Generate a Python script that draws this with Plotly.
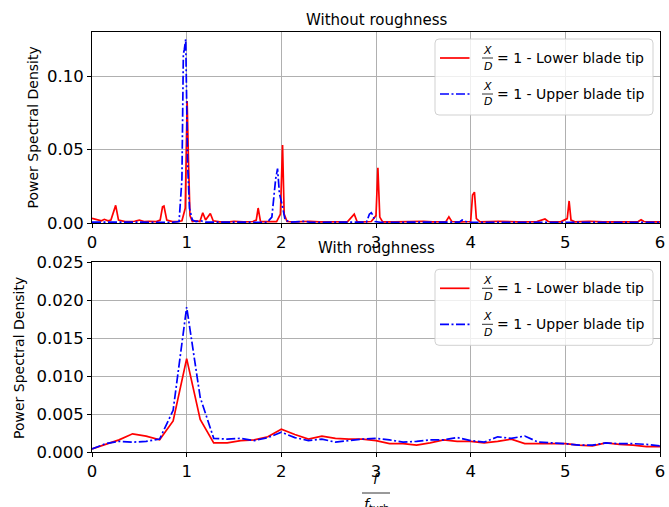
import plotly.graph_objects as go

# ---------------- data ----------------
# Top panel: without roughness
f_low_top = [0, 0.05, 0.1, 0.13, 0.17, 0.2, 0.25, 0.28, 0.35, 0.45, 0.5, 0.55, 0.6, 0.68,
             0.72, 0.745, 0.76, 0.79, 0.85, 0.9, 0.95, 0.985, 1.005, 1.02, 1.035, 1.06, 1.1,
             1.14, 1.17, 1.2, 1.25, 1.28, 1.35, 1.45, 1.5, 1.6, 1.7, 1.735, 1.755, 1.78, 1.85,
             1.95, 1.99, 2.013, 2.03, 2.06, 2.15, 2.3, 2.4, 2.5, 2.6, 2.7, 2.77, 2.8, 2.85,
             2.95, 3.0, 3.02, 3.04, 3.07, 3.2, 3.3, 3.5, 3.6, 3.74, 3.77, 3.8, 3.9, 4.0, 4.02,
             4.04, 4.06, 4.1, 4.3, 4.5, 4.7, 4.785, 4.82, 4.95, 5.02, 5.04, 5.06, 5.1, 5.25,
             5.4, 5.6, 5.77, 5.80, 5.83, 5.9, 6.0]
psd_low_top = [0.0032, 0.0022, 0.0015, 0.0025, 0.0015, 0.002, 0.012, 0.002, 0.001, 0.0012,
               0.002, 0.001, 0.0012, 0.001, 0.002, 0.011, 0.0115, 0.002, 0.001, 0.001, 0.0015,
               0.01, 0.083, 0.04, 0.005, 0.001, 0.0015, 0.001, 0.007, 0.002, 0.0065, 0.0015,
               0.0008, 0.0008, 0.0012, 0.0008, 0.001, 0.002, 0.0102, 0.001, 0.0008, 0.001,
               0.006, 0.053, 0.006, 0.001, 0.0008, 0.0012, 0.0008, 0.001, 0.0008, 0.001,
               0.006, 0.001, 0.0008, 0.001, 0.005, 0.0376, 0.004, 0.0008, 0.0008, 0.001,
               0.0012, 0.0008, 0.001, 0.0042, 0.001, 0.0008, 0.001, 0.019, 0.021, 0.003,
               0.0008, 0.0012, 0.0008, 0.001, 0.0027, 0.001, 0.0008, 0.003, 0.015, 0.002,
               0.0008, 0.0012, 0.0008, 0.0008, 0.001, 0.0022, 0.001, 0.0008, 0.0008]

f_up_top = [0, 0.3, 0.6, 0.85, 0.92, 0.95, 0.965, 0.975, 0.99, 1.0, 1.01, 1.03, 1.06, 1.1,
            1.15, 1.2, 1.5, 1.85, 1.9, 1.94, 1.96, 1.98, 2.01, 2.04, 2.1, 2.25, 2.3, 2.6,
            2.9, 2.93, 2.95, 2.97, 2.99, 3.05, 3.5, 3.88, 3.91, 3.94, 3.97, 4.5, 5.0, 5.5, 6.0]
psd_up_top = [0.0006, 0.0004, 0.0004, 0.0005, 0.001, 0.03, 0.115, 0.118, 0.125, 0.08, 0.04,
              0.01, 0.002, 0.001, 0.0015, 0.0006, 0.0004, 0.0005, 0.004, 0.03, 0.037, 0.02,
              0.012, 0.002, 0.0006, 0.0012, 0.0005, 0.0004, 0.0006, 0.006, 0.007, 0.005,
              0.001, 0.0005, 0.0004, 0.0006, 0.002, 0.0015, 0.0005, 0.0004, 0.0005, 0.0004,
              0.0004]

# Bottom panel: with roughness (frequency step 1/7)
f_bot = [i / 7 for i in range(43)]
psd_low_bot = [0.0004, 0.0010, 0.0016, 0.0024, 0.0021, 0.0016, 0.0041, 0.0123, 0.0043,
               0.0012, 0.0012, 0.0015, 0.0016, 0.0020, 0.0030, 0.0023, 0.0017, 0.0021,
               0.0018, 0.0017, 0.0017, 0.0015, 0.0011, 0.0011, 0.0009, 0.0012, 0.0016,
               0.0014, 0.0014, 0.0012, 0.0014, 0.0017, 0.0011, 0.0011, 0.0011, 0.0011,
               0.0009, 0.0008, 0.0012, 0.0010, 0.0009, 0.0007, 0.0007]
psd_up_bot = [0.0004, 0.0011, 0.0014, 0.0013, 0.0014, 0.0017, 0.0055, 0.0191, 0.0072,
              0.0018, 0.0017, 0.0018, 0.0015, 0.0019, 0.0026, 0.0019, 0.0015, 0.0017,
              0.0013, 0.0015, 0.0017, 0.0018, 0.0016, 0.0013, 0.0014, 0.0016, 0.0016,
              0.0019, 0.0015, 0.0013, 0.0020, 0.0018, 0.0021, 0.0013, 0.0012, 0.0011,
              0.0009, 0.0009, 0.0012, 0.0011, 0.0011, 0.0010, 0.0008]

titles = ["Without roughness", "With roughness"]
legend_labels = ["= 1 - Lower blade tip", "= 1 - Upper blade tip"]
x_ticks = [0, 1, 2, 3, 4, 5, 6]

# ---------------- figure ----------------
W, H = 669, 507
ML, MR, MT, MB = 92, 9, 32, 55
PW, PH = W - ML - MR, H - MT - MB
FONT = "DejaVu Sans"
RED = "#ff0000"
BLUE = "#0000ff"
DASHDOT = "9px,2.5px,2px,2.5px"


def px(p):
    return (p - ML) / PW


def py(p):
    return (H - MB - p) / PH


fig = go.Figure()
fig.add_trace(go.Scatter(x=f_low_top, y=psd_low_top, mode="lines", xaxis="x", yaxis="y",
                         line=dict(color=RED, width=1.7), showlegend=False))
fig.add_trace(go.Scatter(x=f_up_top, y=psd_up_top, mode="lines", xaxis="x", yaxis="y",
                         line=dict(color=BLUE, width=1.7, dash=DASHDOT), showlegend=False))
fig.add_trace(go.Scatter(x=f_bot, y=psd_low_bot, mode="lines", xaxis="x2", yaxis="y2",
                         line=dict(color=RED, width=1.7), showlegend=False))
fig.add_trace(go.Scatter(x=f_bot, y=psd_up_bot, mode="lines", xaxis="x2", yaxis="y2",
                         line=dict(color=BLUE, width=1.7, dash=DASHDOT), showlegend=False))

axis_common = dict(showline=True, linecolor="black", linewidth=1, mirror=True,
                   ticks="outside", ticklen=4, tickcolor="black", tickwidth=1,
                   showgrid=True, gridcolor="#b0b0b0", gridwidth=0.8, zeroline=False,
                   automargin=False,
                   tickfont=dict(family=FONT, size=16.5, color="black"))

top_dom = [py(223), 1.0]
bot_dom = [0.0, py(262.3)]

fig.update_layout(
    width=W, height=H,
    margin=dict(l=ML, r=MR, t=MT, b=MB, autoexpand=False),
    paper_bgcolor="white", plot_bgcolor="white",
    font=dict(family=FONT, color="black"),
    xaxis=dict(domain=[0, 1], range=[0, 6], tickvals=x_ticks, anchor="y", **axis_common),
    yaxis=dict(domain=top_dom, range=[0, 0.13], tickvals=[0, 0.05, 0.10],
               tickformat=".2f", anchor="x", **axis_common),
    xaxis2=dict(domain=[0, 1], range=[0, 6], tickvals=x_ticks, anchor="y2", **axis_common),
    yaxis2=dict(domain=bot_dom, range=[0, 0.025],
                tickvals=[0, 0.005, 0.01, 0.015, 0.02, 0.025],
                tickformat=".3f", anchor="x2", **axis_common),
)

ann = []
shapes = []

# titles
ann.append(dict(text=titles[0], x=0.5, y=py(20), xref="paper", yref="paper",
                xanchor="center", yanchor="middle", showarrow=False,
                font=dict(family=FONT, size=15, color="black")))
ann.append(dict(text=titles[1], x=0.5, y=py(248.5), xref="paper", yref="paper",
                xanchor="center", yanchor="middle", showarrow=False,
                font=dict(family=FONT, size=15, color="black")))

# y-axis titles
for cy, cx in [(128, 32.5), (358, 19)]:
    ann.append(dict(text="Power Spectral Density", x=px(cx), y=py(cy), xref="paper",
                    yref="paper", xanchor="center", yanchor="middle", textangle=-90,
                    showarrow=False, font=dict(family=FONT, size=14, color="black")))

# x-axis title  f / f_turb
ann.append(dict(text="<i>f</i>", x=px(376), y=py(479), xref="paper", yref="paper",
                xanchor="center", yanchor="middle", showarrow=False,
                font=dict(family=FONT, size=14, color="black")))
shapes.append(dict(type="line", xref="paper", yref="paper", x0=px(362), x1=px(390),
                   y0=py(493), y1=py(493), line=dict(color="black", width=0.8)))
ann.append(dict(text="<i>f</i><sub>turb</sub>", x=px(376), y=py(505), xref="paper",
                yref="paper", xanchor="center", yanchor="middle", showarrow=False,
                font=dict(family=FONT, size=14, color="black")))


def rounded_rect(x0, y0, x1, y1, r=4):
    rx, ry = r / PW, r / PH
    X0, X1 = px(x0), px(x1)
    Y0, Y1 = py(y0), py(y1)  # Y0 top (larger), Y1 bottom
    return (f"M {X0+rx},{Y0} L {X1-rx},{Y0} Q {X1},{Y0} {X1},{Y0-ry} "
            f"L {X1},{Y1+ry} Q {X1},{Y1} {X1-rx},{Y1} L {X0+rx},{Y1} "
            f"Q {X0},{Y1} {X0},{Y1+ry} L {X0},{Y0-ry} Q {X0},{Y0} {X0+rx},{Y0} Z")


# custom legends (matplotlib style with X/D fraction)
for top in [39.0, 269.3]:
    shapes.append(dict(type="path", xref="paper", yref="paper",
                       path=rounded_rect(435, top, 653, top + 76),
                       fillcolor="rgba(255,255,255,0.8)",
                       line=dict(color="rgba(204,204,204,0.9)", width=1), layer="above"))
    for k, (col, dash) in enumerate([(RED, "solid"), (BLUE, DASHDOT)]):
        cy = top + 19 + 36 * k
        shapes.append(dict(type="line", xref="paper", yref="paper", x0=px(440), x1=px(469.5),
                           y0=py(cy), y1=py(cy), layer="above",
                           line=dict(color=col, width=1.7, dash=dash)))
        shapes.append(dict(type="line", xref="paper", yref="paper", x0=px(482), x1=px(493),
                           y0=py(cy), y1=py(cy), layer="above",
                           line=dict(color="black", width=0.8)))
        ann.append(dict(text="<i>X</i>", x=px(487.5), y=py(cy - 7.5), xref="paper",
                        yref="paper", xanchor="center", yanchor="middle", showarrow=False,
                        font=dict(family=FONT, size=11, color="black")))
        ann.append(dict(text="<i>D</i>", x=px(487.5), y=py(cy + 8), xref="paper",
                        yref="paper", xanchor="center", yanchor="middle", showarrow=False,
                        font=dict(family=FONT, size=11, color="black")))
        ann.append(dict(text=legend_labels[k], x=px(495), y=py(cy), xref="paper",
                        yref="paper", xanchor="left", yanchor="middle", showarrow=False,
                        font=dict(family=FONT, size=14, color="black")))

fig.update_layout(annotations=ann, shapes=shapes)
fig.write_html("out.html", config={"displayModeBar": False},
               post_script="document.body.style.margin='0';document.body.style.padding='0';")
